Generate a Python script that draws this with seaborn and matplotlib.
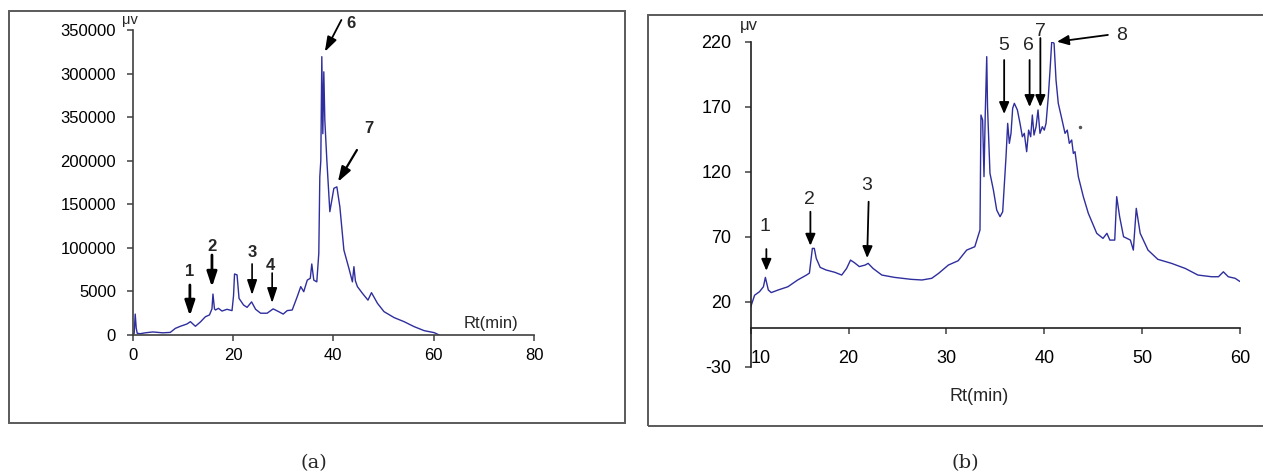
import numpy as np
import pandas as pd
import matplotlib
matplotlib.use("Agg")
import matplotlib.pyplot as plt
import seaborn as sns
from matplotlib.patches import Rectangle

# ---------------- data: panel (a) ----------------
rt_a = [0.0, 0.3, 0.5, 0.7, 0.9, 1.5, 2.5, 4.0, 5.0, 6.0, 7.5, 8.5, 9.5, 10.8, 11.5,
        12.5, 13.5, 14.5, 15.3, 15.8, 16.0, 16.3, 16.5, 17.1, 17.8, 18.8, 19.8, 20.1,
        20.3, 20.8, 21.2, 22.1, 22.8, 23.7, 24.5, 25.5, 26.8, 28.0, 29.1, 30.0, 30.8,
        31.8, 32.8, 33.5, 34.1, 34.8, 35.4, 35.7, 36.1, 36.7, 37.1, 37.3, 37.5, 37.7,
        37.9, 38.1, 38.3, 38.7, 39.3, 40.1, 40.7, 41.3, 42.1, 43.1, 43.8, 44.1, 44.4,
        44.8, 45.8, 46.9, 47.6, 48.8, 50.1, 52.1, 54.1, 56.1, 58.1, 60.1, 61.1]
signal_a = [0, 2000, 24000, 8000, 2000, 1500, 2500, 3500, 3000, 2500, 3000, 7600, 10000,
            12600, 15300, 10000, 15000, 21000, 23000, 30000, 47000, 30000, 28700, 30600,
            27500, 29500, 28000, 45000, 70000, 69000, 42000, 34400, 31700, 38000, 29500,
            25000, 25000, 30000, 26800, 24000, 28000, 28700, 44000, 55500, 49700, 63000,
            65000, 81500, 63000, 61000, 93700, 181700, 200000, 319400, 231000, 302000,
            246700, 200800, 141500, 168300, 170000, 147000, 97500, 76500, 61000, 78400,
            62000, 55500, 47800, 40000, 48600, 36300, 26800, 20000, 15300, 9600, 5000,
            2700, 0]
xticks_a = [0, 20, 40, 60, 80]
yticks_a = [0, 50000, 100000, 150000, 200000, 250000, 300000, 350000]
ytick_labels_a = ["0", "5000", "100000", "150000", "200000", "350000", "300000", "350000"]
peak_labels_a = ["1", "2", "3", "4", "6", "7"]
label_pos_a = [(11.4, 72300), (15.8, 101000), (23.8, 95200), (27.4, 80300), (43.6, 358000), (47.1, 236400)]
arrow_tail_a = [(11.4, 57400), (15.8, 91800), (23.8, 81500), (27.8, 71100), (41.6, 361500), (44.7, 212300)]
arrow_tip_a = [(11.4, 21800), (15.8, 55000), (23.8, 45900), (27.8, 36700), (38.3, 325000), (40.9, 175600)]
arrow_lw_a = [2.0, 2.0, 1.2, 1.2, 1.3, 1.6]

# ---------------- data: panel (b) ----------------
rt_b = [10.0, 10.4, 10.9, 11.3, 11.5, 11.8, 12.1, 12.8, 13.8, 14.8, 15.7, 16.0, 16.3, 16.5,
        16.7, 17.1, 17.7, 18.6, 19.3, 19.8, 20.2, 20.6, 21.1, 21.7, 22.0, 22.5, 23.4, 24.7,
        26.4, 27.5, 28.5, 29.2, 30.2, 31.2, 32.07, 32.9, 33.43, 33.53, 33.7, 33.84, 33.97,
        34.12, 34.2, 34.45, 34.8, 35.14, 35.48, 35.75, 36.09, 36.26, 36.43, 36.6, 36.77,
        36.94, 37.25, 37.52, 37.76, 37.96, 38.2, 38.4, 38.61, 38.78, 38.95, 39.16, 39.36,
        39.56, 39.8, 40.0, 40.18, 40.41, 40.59, 40.76, 41.0, 41.2, 41.43, 41.78, 42.12,
        42.35, 42.56, 42.8, 42.97, 43.14, 43.48, 43.99, 44.5, 45.36, 46.0, 46.4, 46.7,
        47.2, 47.4, 47.7, 48.1, 48.8, 49.1, 49.4, 49.8, 50.6, 51.6, 53.0, 54.4, 55.7,
        57.1, 57.8, 58.3, 58.8, 59.5, 60.0]
signal_b = [16.0, 25.0, 27.7, 31.5, 38.7, 29.0, 27.0, 29.0, 31.5, 36.7, 40.5, 42.0, 61.0,
            61.0, 53.3, 46.4, 44.4, 42.6, 40.5, 45.6, 52.0, 50.0, 47.0, 48.2, 49.5, 45.6,
            40.5, 38.7, 37.2, 36.7, 38.0, 41.8, 48.2, 51.5, 59.7, 62.3, 75.2, 163.6, 159.8,
            116.2, 164.9, 208.5, 170.0, 118.8, 105.9, 90.5, 85.4, 89.2, 131.5, 157.2, 141.8,
            149.5, 168.8, 172.6, 167.5, 157.2, 146.9, 149.5, 135.4, 152.0, 146.9, 163.6,
            148.2, 154.6, 167.5, 149.5, 154.6, 152.0, 157.2, 177.7, 198.2, 220.0, 218.8,
            190.5, 172.6, 161.0, 149.5, 152.0, 141.8, 144.4, 134.1, 135.4, 116.2, 100.8,
            88.0, 72.6, 68.7, 72.6, 67.4, 67.4, 100.8, 85.4, 70.0, 67.4, 59.7, 91.8, 72.6,
            59.7, 52.6, 49.5, 45.6, 40.5, 39.2, 39.2, 43.0, 39.2, 38.0, 35.5]
xticks_b = [10, 20, 30, 40, 50, 60]
yticks_b = [-30, 20, 70, 120, 170, 220]
peak_labels_b = ["1", "2", "3", "5", "6", "7", "8"]
label_pos_b = [(11.5, 77.7), (16.0, 99.0), (21.8, 109.2), (35.9, 216.7), (38.4, 216.7), (39.6, 228.2), (47.9, 224.6)]
arrow_tail_b = [(11.6, 60.5), (16.1, 89.2), (22.05, 96.9), (35.9, 205.9), (38.5, 205.9), (39.6, 222.8), (46.5, 225.2)]
arrow_tip_b = [(11.6, 43.8), (16.1, 63.1), (21.9, 53.6), (35.9, 164.4), (38.5, 169.8), (39.6, 169.8), (41.3, 220.0)]

df_a = pd.DataFrame({"Rt": rt_a, "signal": signal_a})
df_b = pd.DataFrame({"Rt": rt_b, "signal": signal_b})

# ---------------- style ----------------
sns.set_style("ticks")
plt.rcParams["font.family"] = ["Liberation Sans", "DejaVu Sans"]
LINE = "#2e2e9e"
AX = "#404040"

fig = plt.figure(figsize=(12.63, 4.73), dpi=100)
W, H = 1263.0, 473.0

def fx(px):
    return px / W

def fy(py):
    return 1 - py / H

# panel frames
fig.patches.append(Rectangle((fx(9), fy(422.7)), fx(625 - 9), (422.7 - 11.5) / H,
                             transform=fig.transFigure, fill=False, ec="#5a5a5a", lw=1.4))
fig.patches.append(Rectangle((fx(647.7), fy(425.7)), fx(1268 - 647.7), (425.7 - 14.7) / H,
                             transform=fig.transFigure, fill=False, ec="#5a5a5a", lw=1.4))

# ---------------- panel (a) ----------------
ax1 = fig.add_axes([fx(132.7), fy(335), fx(534 - 132.7), (335 - 30) / H])
sns.lineplot(data=df_a, x="Rt", y="signal", ax=ax1, color=LINE, lw=1.0)
ax1.set_xlim(0, 80)
ax1.set_ylim(0, 350000)
ax1.set_xticks(xticks_a)
ax1.set_xticklabels([str(t) for t in xticks_a])
ax1.set_yticks(yticks_a)
ax1.set_yticklabels(ytick_labels_a)
ax1.set_xlabel("")
ax1.set_ylabel("")
for s in ["top", "right"]:
    ax1.spines[s].set_visible(False)
for s in ["left", "bottom"]:
    ax1.spines[s].set_color(AX)
    ax1.spines[s].set_linewidth(1.2)
ax1.tick_params(axis="both", colors=AX, direction="out", length=4, width=1.1, labelsize=12,
                labelcolor="black")
ax1.tick_params(axis="y", pad=8)
ax1.tick_params(axis="x", pad=5)
ax1.text(71.5, 13400, "Rt(min)", fontsize=12, ha="center", va="center")
ax1.text(-0.5, 361500, "μv", fontsize=10.5, ha="center", va="center", clip_on=False)

for lab, lp, tail, tip, lw in zip(peak_labels_a, label_pos_a, arrow_tail_a, arrow_tip_a, arrow_lw_a):
    ax1.annotate("", xy=tip, xytext=tail, annotation_clip=False,
                 arrowprops=dict(arrowstyle="-|>,head_length=0.9,head_width=0.3",
                                 color="black", lw=lw, shrinkA=0, shrinkB=0))
    ax1.text(lp[0], lp[1], lab, fontsize=12, fontweight="bold", ha="center", va="center",
             clip_on=False)

# ---------------- panel (b) ----------------
ax2 = fig.add_axes([fx(750.7), fy(366.7), fx(1240 - 750.7), (366.7 - 41.7) / H])
sns.lineplot(data=df_b, x="Rt", y="signal", ax=ax2, color=LINE, lw=1.0)
ax2.set_xlim(10, 60)
ax2.set_ylim(-30, 220)
ax2.set_xticks(xticks_b)
ax2.set_xticklabels([str(t) for t in xticks_b])
ax2.set_yticks(yticks_b)
ax2.set_yticklabels([str(t) for t in yticks_b])
ax2.set_xlabel("")
ax2.set_ylabel("")
for s in ["top", "right"]:
    ax2.spines[s].set_visible(False)
ax2.spines["bottom"].set_position(("data", 0))
for s in ["left", "bottom"]:
    ax2.spines[s].set_color("#202020")
    ax2.spines[s].set_linewidth(1.2)
ax2.tick_params(axis="both", colors=AX, direction="out", length=4, width=1.1, labelsize=13,
                labelcolor="black")
ax2.tick_params(axis="x", pad=12)
ax2.tick_params(axis="y", pad=10)
xtl = ax2.get_xticklabels()
xtl[0].set_ha("left")
ax2.text(33.3, -53.2, "Rt(min)", fontsize=13, ha="center", va="center", clip_on=False)
ax2.text(9.8, 232.5, "μv", fontsize=12, ha="center", va="center", clip_on=False)
ax2.plot([43.6], [154.4], marker="o", ms=1.5, color="#555555", ls="none")

for lab, lp, tail, tip in zip(peak_labels_b, label_pos_b, arrow_tail_b, arrow_tip_b):
    ax2.annotate("", xy=tip, xytext=tail, annotation_clip=False,
                 arrowprops=dict(arrowstyle="-|>,head_length=0.7,head_width=0.3",
                                 color="black", lw=1.3, shrinkA=0, shrinkB=0))
    ax2.text(lp[0], lp[1], lab, fontsize=14, ha="center", va="center", clip_on=False)

# captions
fig.text(fx(314), fy(463), "(a)", fontsize=14, family=["DejaVu Serif"], ha="center", va="center")
fig.text(fx(965), fy(463), "(b)", fontsize=14, family=["DejaVu Serif"], ha="center", va="center")

fig.savefig("out.png", dpi=100)
